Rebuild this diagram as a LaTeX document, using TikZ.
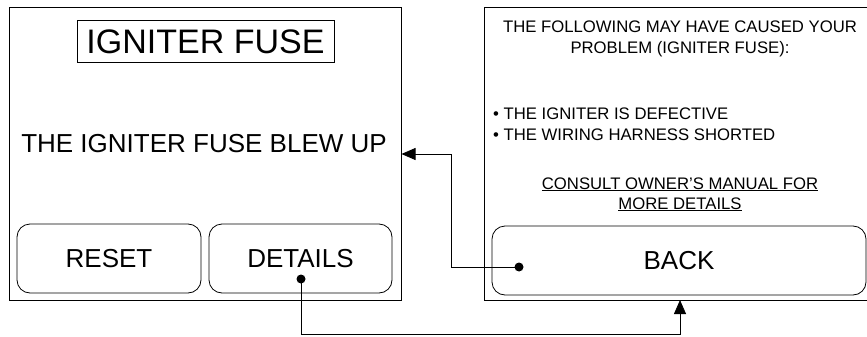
\documentclass[tikz,border=0pt]{standalone}
\usepackage{fontspec}
\setmainfont{Liberation Sans}
\usetikzlibrary{arrows.meta}
\begin{document}
\begin{tikzpicture}[x=1pt,y=-1pt,
  panel/.style={draw,line width=0.8pt},
  btn/.style={draw,line width=0.8pt,rounded corners=13pt},
  conn/.style={line width=0.8pt},
  tip/.style={-{Triangle[length=14pt,width=12pt]}},
  dotstyle/.style={circle,fill=black,inner sep=0pt,minimum size=9pt},
  lbl/.style={inner sep=0pt,anchor=base}]
\useasboundingbox (0,0) rectangle (867,337);
% left panel
\node[panel,minimum width=392pt,minimum height=293pt,inner sep=0pt] (lp) at (205,153.5) {};
\node[panel,minimum width=257pt,minimum height=42pt,inner sep=0pt] (title) at (205.5,41) {};
\node[lbl,font=\fontsize{34}{40}\selectfont] (titletxt) at (205.5,53) {IGNITER FUSE};
\node[lbl,font=\fontsize{26}{30}\selectfont] (msg) at (204,152) {THE IGNITER FUSE BLEW UP};
\draw[btn] (17,224) rectangle (201,293);
\node[inner sep=0pt,minimum width=184pt,minimum height=69pt] (reset) at (109,258.5) {};
\node[lbl,font=\fontsize{26}{30}\selectfont] (resettxt) at (109,267) {RESET};
\draw[btn] (209,224) rectangle (392,293);
\node[inner sep=0pt,minimum width=183pt,minimum height=69pt] (details) at (300.5,258.5) {};
\node[lbl,font=\fontsize{26}{30}\selectfont] (detailstxt) at (300.5,267) {DETAILS};
% right panel
\node[panel,minimum width=384pt,minimum height=293pt,inner sep=0pt] (rp) at (676,153.5) {};
\node[lbl,font=\fontsize{16.7}{20}\selectfont] (l1) at (680,33) {THE FOLLOWING MAY HAVE CAUSED YOUR};
\node[lbl,font=\fontsize{16.7}{20}\selectfont] (l2) at (680,53) {PROBLEM (IGNITER FUSE):};
\node[lbl,anchor=base west,font=\fontsize{16.7}{20}\selectfont] (b1) at (493,119) {\textbullet\ THE IGNITER IS DEFECTIVE};
\node[lbl,anchor=base west,font=\fontsize{16.7}{20}\selectfont] (b2) at (493,140) {\textbullet\ THE WIRING HARNESS SHORTED};
\node[lbl,font=\fontsize{16.7}{20}\selectfont] (c1) at (680,189) {\underline{CONSULT OWNER’S MANUAL FOR}};
\node[lbl,font=\fontsize{16.7}{20}\selectfont] (c2) at (680,209) {\underline{MORE DETAILS}};
\draw[btn] (492,226) rectangle (866,295);
\node[inner sep=0pt,minimum width=374pt,minimum height=69pt] (back) at (679,260.5) {};
\node[lbl,font=\fontsize{26}{30}\selectfont] (backtxt) at (679,269) {BACK};
% dots
\node[dotstyle] (d1) at (301,279) {};
\node[dotstyle] (d2) at (519,267) {};
\coordinate (blewin) at (401.5,154);
\coordinate (backin) at (680,300);
% connectors
\draw[conn,tip] (d2.center) -| (451,154) -- (blewin);
\draw[conn,tip] (d1.center) |- (680,334) -- (backin);
\end{tikzpicture}
\end{document}
